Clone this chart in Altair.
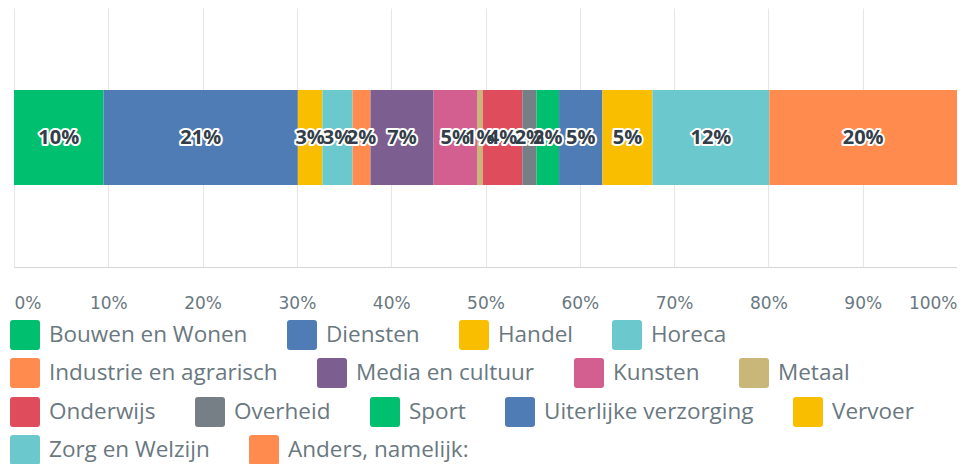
import altair as alt
import pandas as pd

categories = [
    "Bouwen en Wonen", "Diensten", "Handel", "Horeca",
    "Industrie en agrarisch", "Media en cultuur", "Kunsten", "Metaal",
    "Onderwijs", "Overheid", "Sport", "Uiterlijke verzorging", "Vervoer",
    "Zorg en Welzijn", "Anders, namelijk:",
]
values = [9.5, 20.6, 2.6, 3.2, 1.9, 6.7, 4.6, 0.6, 4.2, 1.5, 2.4, 4.6, 5.3, 12.4, 19.9]
colors = [
    "#00bf6f", "#507cb6", "#f9be00", "#6bc8cd",
    "#ff8b4f", "#7d5e90", "#d25f90", "#c9b77a",
    "#df4d5d", "#777f86", "#00bf6f", "#507cb6", "#f9be00",
    "#6bc8cd", "#ff8b4f",
]
legend_rows = [1, 1, 1, 1, 2, 2, 2, 2, 3, 3, 3, 3, 3, 4, 4]
tick_values = [0, 10, 20, 30, 40, 50, 60, 70, 80, 90, 100]

df = pd.DataFrame({
    "cat": categories,
    "value": values,
    "color": colors,
    "row": legend_rows,
    "idx": list(range(len(categories))),
    "band": ["a"] * len(categories),
})

FONT = "Open Sans"
TICK_FONT = "DejaVu Sans"
TXT_GRAY = "#6a7880"

base = alt.Chart(df).transform_window(
    end="sum(value)", sort=[{"field": "idx"}], frame=[None, 0]
).transform_calculate(
    start="datum.end - datum.value",
    mid="datum.end - datum.value / 2",
    label="round(datum.value) + '%'",
)

x_enc = alt.X(
    "start:Q",
    scale=alt.Scale(domain=[0, 100], nice=False, zero=True),
    axis=alt.Axis(
        values=tick_values,
        labelExpr="datum.value + '%'",
        labelFlush=True,
        ticks=False,
        labelPadding=28,
        labelFont=TICK_FONT,
        labelFontSize=17,
        labelColor=TXT_GRAY,
        domainColor="#d6d6d6",
        gridColor="#e6e6e6",
        grid=True,
        title=None,
    ),
)
y_enc = alt.Y("band:N", axis=None, scale=alt.Scale(paddingInner=0, paddingOuter=0))

rounded_square = ("M -0.8 -1 L 0.8 -1 Q 1 -1 1 -0.8 L 1 0.8 Q 1 1 0.8 1 "
                  "L -0.8 1 Q -1 1 -1 0.8 L -1 -0.8 Q -1 -1 -0.8 -1 Z")

legend_y = {1: 312, 2: 350, 3: 389, 4: 427}

bar_layers = []
for r in [1, 2, 3, 4]:
    sub = df[df["row"] == r]
    bar_layers.append(
        base.transform_filter(alt.datum.row == r).mark_bar(size=95).encode(
            x=x_enc,
            x2="end:Q",
            y=y_enc,
            color=alt.Color(
                "cat:N",
                scale=alt.Scale(domain=list(sub["cat"]), range=list(sub["color"])),
                legend=alt.Legend(
                    orient="none",
                    legendX=-4,
                    legendY=legend_y[r],
                    direction="horizontal",
                    title=None,
                    symbolType=rounded_square,
                    symbolSize=900,
                    symbolStrokeWidth=0,
                    symbolOpacity=1,
                    labelFont=FONT,
                    labelFontSize=22.5,
                    labelColor=TXT_GRAY,
                    labelLimit=500,
                    labelOffset=9,
                    columnPadding=39,
                    padding=0,
                ),
            ),
        )
    )

halo = base.mark_text(
    font=FONT, fontSize=20, fontWeight="bold", color="white",
    stroke="white", strokeWidth=4, strokeJoin="round",
).encode(x="mid:Q", y=y_enc, text="label:N")

labels = base.mark_text(
    font=FONT, fontSize=20, fontWeight="bold", color="#333e48",
).encode(x="mid:Q", y=y_enc, text="label:N")

chart = alt.layer(*bar_layers, halo, labels).resolve_scale(
    color="independent"
).properties(
    width=943,
    height=259,
    autosize=alt.AutoSizeParams(type="none"),
    padding={"left": 6, "top": 0, "right": 0, "bottom": 197},
).configure_view(strokeWidth=0)

chart.save("out.html", embed_options={"renderer": "svg", "actions": False})
